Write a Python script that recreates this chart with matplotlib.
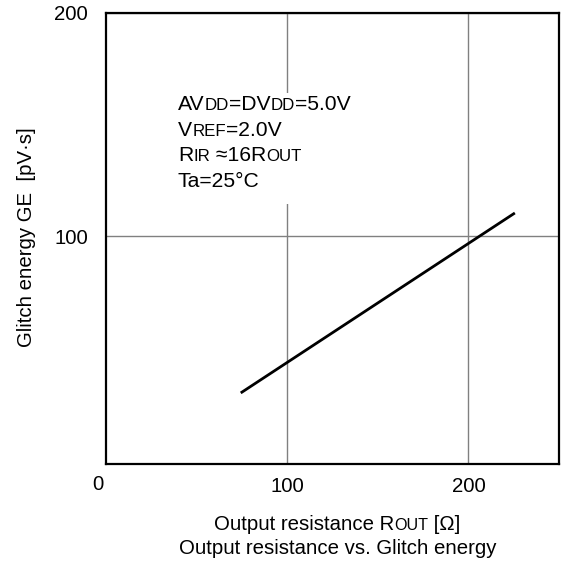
import matplotlib
matplotlib.use('Agg')
import matplotlib.pyplot as plt
from matplotlib.offsetbox import TextArea, HPacker, VPacker, AnnotationBbox
from matplotlib.patches import Rectangle

plt.rcParams['font.family'] = ['Liberation Sans', 'DejaVu Sans']

# data
rout_vals = [75, 225]
ge_vals = [30, 110]
xticks = [100, 200]
yticks = [100, 200]
xtick_labels = ['100', '200']
ytick_labels = ['100', '200']

BIG = 14.7
SMALL = 11.6
ABIG = 15.2
ASMALL = 12.2

fig = plt.figure(figsize=(5.64, 5.74), dpi=100)
W, H = 564, 574
ax = fig.add_axes([106 / W, 1 - 464 / H, (559 - 106) / W, (464 - 13) / H])
ax.set_xlim(0, 250)
ax.set_ylim(-2.2, 200)
ax.set_xticks(xticks)
ax.set_xticklabels(xtick_labels)
ax.set_yticks(yticks)
ax.set_yticklabels(ytick_labels)
ax.tick_params(length=0, labelsize=BIG)
ax.tick_params(axis='y', pad=13)
ax.tick_params(axis='x', pad=9)
ax.grid(True, color='#808080', lw=1)
ax.set_axisbelow(True)
for s in ax.spines.values():
    s.set_linewidth(1.6)
    s.set_color('black')

ax.plot(rout_vals, ge_vals, color='black', lw=2, zorder=3)

fig.text(98 / W, 1 - 484 / H, '0', ha='center', va='center', fontsize=BIG)


def mkline(parts):
    return HPacker(children=[TextArea(t, textprops=dict(fontsize=s, color='black')) for t, s in parts],
                   align='baseline', pad=0, sep=0)


# white background behind the condition text (breaks the grid line)
ax.add_patch(Rectangle((172 / W, 1 - 204 / H), (356 - 172) / W, (204 - 93) / H,
                       transform=fig.transFigure, fc='white', ec='none', zorder=1))

lines = [
    mkline([('AV', ABIG), ('DD', ASMALL), ('=DV', ABIG), ('DD', ASMALL), ('=5.0V', ABIG)]),
    mkline([('V', ABIG), ('REF', ASMALL), ('=2.0V', ABIG)]),
    mkline([('R', ABIG), ('IR', ASMALL), (' \u224816R', ABIG), ('OUT', ASMALL)]),
    mkline([('Ta=25\u00b0C', ABIG)]),
]
vbox = VPacker(children=lines, align='left', pad=0, sep=4.8)
ab = AnnotationBbox(vbox, (178 / W, 1 - 95 / H), xycoords='figure fraction', box_alignment=(0, 1),
                    frameon=False, pad=0, zorder=4)
ax.add_artist(ab)

xl = mkline([('Output resistance R', BIG), ('OUT', SMALL), (' [\u03a9]', BIG)])
ab2 = AnnotationBbox(xl, (337 / W, 1 - 525 / H), xycoords='figure fraction', box_alignment=(0.5, 0.5),
                     frameon=False)
fig.add_artist(ab2)

fig.text(338 / W, 1 - 549 / H, 'Output resistance vs. Glitch energy', ha='center', va='center', fontsize=BIG)
fig.text(27 / W, 1 - 237 / H, 'Glitch energy GE  [pV\u00b7s]', ha='center', va='center', rotation=90, fontsize=BIG)

fig.savefig('out.png', dpi=100)
